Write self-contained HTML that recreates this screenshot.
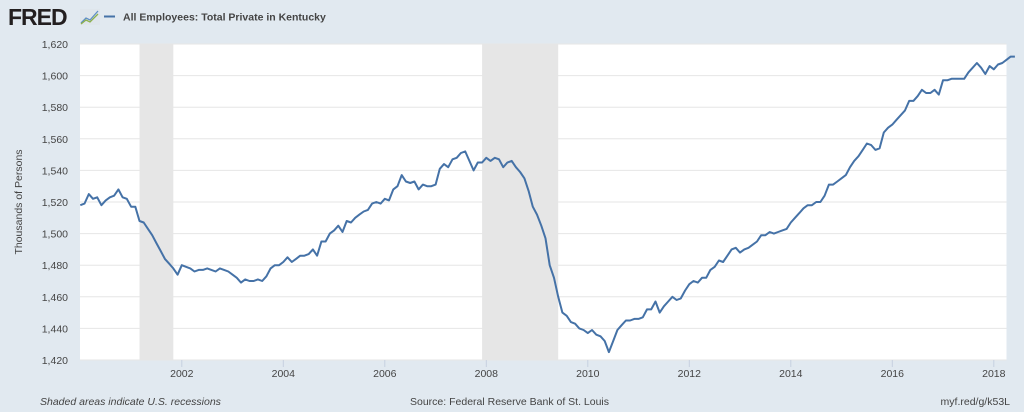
<!DOCTYPE html>
<html><head><meta charset="utf-8"><style>
body{margin:0;width:1024px;height:412px;background:#e1e9f0;font-family:"Liberation Sans",sans-serif;overflow:hidden}
svg{display:block}
</style></head><body>
<svg width="1024" height="412">
<rect x="0" y="0" width="1024" height="412" fill="#e1e9f0"/>
<g>
<text x="8" y="25" font-size="23" font-weight="bold" fill="#231f20" letter-spacing="-1">FRED</text>
<rect x="80" y="9" width="20" height="16" fill="#dfe6ec"/>
<polyline points="81,23 86,18 90,20 98,11" fill="none" stroke="#5f8fc4" stroke-width="1.3"/>
<polyline points="81,24 86,20 90,22 98,14" fill="none" stroke="#8db14a" stroke-width="1.3"/>
</g>
<line x1="104" y1="16.5" x2="115" y2="16.5" stroke="#4572a7" stroke-width="2"/>
<text x="123" y="20.5" font-size="10.5" font-weight="bold" fill="#444">All Employees: Total Private in Kentucky</text>
<rect x="80" y="44" width="926.5" height="316" fill="#fff"/>
<g id="rec"></g><g id="grid"></g><g id="ylab"></g><g id="xlab"></g>
<path id="line" fill="none" stroke="#4572a7" stroke-width="2" stroke-linejoin="round"/>
<text transform="translate(22,202) rotate(-90)" text-anchor="middle" font-size="10.5" fill="#444">Thousands of Persons</text>
<text x="40" y="405" font-size="10.5" font-style="italic" fill="#444">Shaded areas indicate U.S. recessions</text>
<text x="410" y="405" font-size="10.5" fill="#444">Source: Federal Reserve Bank of St. Louis</text>
<text x="1010" y="405" text-anchor="end" font-size="10.5" fill="#444">myf.red/g/k53L</text>
</svg>
<script>
const startYear = 2000;
const values = [
1518,1519,1525,1522,1523,1518,1521,1523,1524,1528,1523,1522,
1517,1517,1508,1507,1503,1499,1494,1489,1484,1481,1478,1474,
1480,1479,1478,1476,1477,1477,1478,1477,1476,1478,1477,1476,
1474,1472,1469,1471,1470,1470,1471,1470,1473,1478,1480,1480,
1482,1485,1482,1484,1486,1486,1487,1490,1486,1495,1495,1500,
1502,1505,1501,1508,1507,1510,1512,1514,1515,1519,1520,1519,
1522,1521,1528,1530,1537,1533,1532,1533,1528,1531,1530,1530,
1531,1541,1544,1542,1547,1548,1551,1552,1546,1540,1545,1545,
1548,1546,1548,1547,1542,1545,1546,1542,1539,1535,1527,1517,
1512,1505,1497,1480,1472,1460,1450,1448,1444,1443,1440,1439,
1437,1439,1436,1435,1432,1425,1432,1439,1442,1445,1445,1446,
1446,1447,1452,1452,1457,1450,1454,1457,1460,1458,1459,1464,
1468,1470,1469,1472,1472,1477,1479,1483,1482,1486,1490,1491,
1488,1490,1491,1493,1495,1499,1499,1501,1500,1501,1502,1503,
1507,1510,1513,1516,1518,1518,1520,1520,1524,1531,1531,1533,
1535,1537,1542,1546,1549,1553,1557,1556,1553,1554,1564,1567,
1569,1572,1575,1578,1584,1584,1587,1591,1589,1589,1591,1588,
1597,1597,1598,1598,1598,1598,1602,1605,1608,1605,1601,1606,
1604,1607,1608,1610,1612,1612];
const yTicks = [1420,1440,1460,1480,1500,1520,1540,1560,1580,1600,1620];
const xTicks = [2002,2004,2006,2008,2010,2012,2014,2016,2018];
const recessionStarts = [2001.167, 2007.917];
const recessionEnds = [2001.833, 2009.417];
const NS="http://www.w3.org/2000/svg";
const X0=80.3, PXY=50.75, Y0=360, Y1=44, VMIN=1420, VMAX=1620;
const xs = t => X0+(t-startYear)*PXY;
const ys = v => Y0-(v-VMIN)/(VMAX-VMIN)*(Y0-Y1);
function mk(tag,attrs,parent){const e=document.createElementNS(NS,tag);for(const k in attrs)e.setAttribute(k,attrs[k]);document.getElementById(parent).appendChild(e);return e;}
recessionStarts.forEach((s,i)=>{
 const r=mk('rect',{x:xs(s),y:Y1,width:xs(recessionEnds[i])-xs(s),height:Y0-Y1,fill:'#e6e6e6'},'rec');
 
 
});
yTicks.forEach(v=>{
 const l=mk('line',{x1:80,x2:1006.5,y1:ys(v),y2:ys(v),stroke:'#e6e6e6','stroke-width':1},'grid');
 
 
 const t=mk('text',{x:68,y:ys(v)+4,'text-anchor':'end','font-size':10.5,fill:'#444'},'ylab');
 t.textContent=v.toLocaleString('en-US');
 
 
});
xTicks.forEach(y=>{
 const l=mk('line',{x1:xs(y),x2:xs(y),y1:360,y2:367,stroke:'#c6d0e0'},'xlab');
 
 
 const t=mk('text',{x:xs(y),y:377,'text-anchor':'middle','font-size':10.5,fill:'#444'},'xlab');
 t.textContent=y;
 
 
});
document.getElementById('line').setAttribute('d',values.map((v,i)=>(i?'L':'M')+xs(startYear+i/12).toFixed(1)+','+ys(v).toFixed(1)).join(''));
</script>
</body></html>
